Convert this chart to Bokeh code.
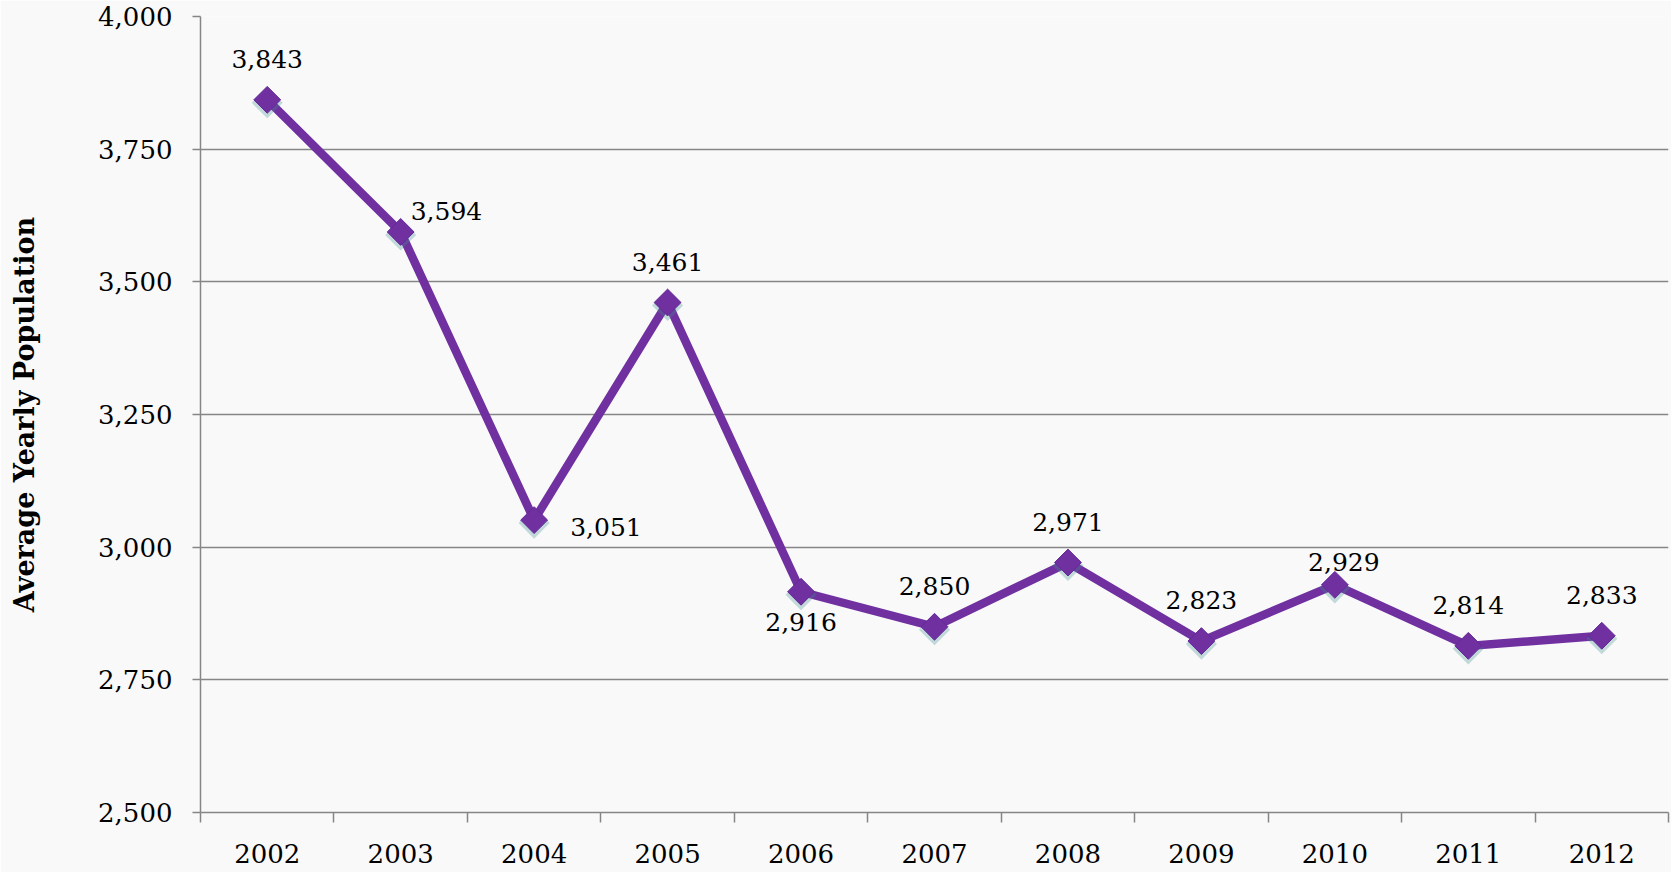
import math
from bokeh.plotting import figure
from bokeh.models import ColumnDataSource, FixedTicker, NumeralTickFormatter, Range1d
from bokeh.core.properties import value
from bokeh.embed import file_html
from bokeh.resources import INLINE

# ---- data ----
years = [2002, 2003, 2004, 2005, 2006, 2007, 2008, 2009, 2010, 2011, 2012]
population = [3843, 3594, 3051, 3461, 2916, 2850, 2971, 2823, 2929, 2814, 2833]
y_ticks = [2500, 2750, 3000, 3250, 3500, 3750, 4000]
y_title = "Average Yearly Population"

# where each data label sits relative to its point
label_place = ["above", "upper_right", "lower_right", "above", "below", "above",
               "above", "above", "above_near", "above", "above"]

PLACE = {
    "above": (0, -41, "center"),
    "above_near": (9, -23, "center"),
    "upper_right": (10, -21, "left"),
    "lower_right": (36, 7, "left"),
    "below": (0, 30, "center"),
}

FONT = "DejaVu Serif"
PURPLE = "#7030A0"
GRID = "#868686"
BG = "#f9f9f9"

p = figure(width=1671, height=872,
           x_range=Range1d(years[0] - 0.5, years[-1] + 0.5),
           y_range=Range1d(y_ticks[0], y_ticks[-1]),
           output_backend="svg", toolbar_location=None,
           min_border_left=200, min_border_right=3,
           min_border_top=16, min_border_bottom=60)

p.background_fill_color = BG
p.border_fill_color = BG
p.outline_line_color = None

# y axis
p.yaxis.ticker = FixedTicker(ticks=y_ticks)
p.yaxis.formatter = NumeralTickFormatter(format="0,0")
p.yaxis.major_tick_out = 8
p.yaxis.major_tick_in = 0
p.yaxis.minor_tick_line_color = None
p.yaxis.major_tick_line_color = GRID
p.yaxis.major_tick_line_width = 1.5
p.yaxis.axis_line_color = GRID
p.yaxis.axis_line_width = 1.5
p.yaxis.major_label_standoff = 20
p.yaxis.major_label_text_font = FONT
p.yaxis.major_label_text_font_size = "26px"
p.yaxis.major_label_text_color = "black"
p.yaxis.axis_label = y_title
p.yaxis.axis_label_text_font = FONT
p.yaxis.axis_label_text_font_style = "bold"
p.yaxis.axis_label_text_font_size = "27px"
p.yaxis.axis_label_text_color = "black"
p.yaxis.axis_label_standoff = 55

# x axis: labels at centres, tick marks between categories
p.xaxis.ticker = FixedTicker(ticks=years,
                             minor_ticks=[y - 0.5 for y in years] + [years[-1] + 0.5])
p.xaxis.major_label_overrides = {y: str(y) for y in years}
p.xaxis.major_tick_out = 0
p.xaxis.major_tick_in = 0
p.xaxis.minor_tick_out = 10
p.xaxis.minor_tick_in = 0
p.xaxis.minor_tick_line_color = GRID
p.xaxis.minor_tick_line_width = 1.5
p.xaxis.axis_line_color = GRID
p.xaxis.axis_line_width = 1.5
p.xaxis.major_label_standoff = 21
p.xaxis.major_label_text_font = FONT
p.xaxis.major_label_text_font_size = "26px"
p.xaxis.major_label_text_color = "black"

p.xgrid.grid_line_color = None
p.ygrid.ticker = FixedTicker(ticks=y_ticks)
p.ygrid.grid_line_color = GRID
p.ygrid.grid_line_width = 1.5

# line
p.line(years, population, line_color=PURPLE, line_width=8.5, line_join="miter")

# marker glow / shadow (slightly below each point)
px_per_unit = 796 / (y_ticks[-1] - y_ticks[0])
shadow_y = [v - 3 / px_per_unit for v in population]
p.scatter(years, shadow_y, marker="square", angle=math.pi / 4, size=22,
          fill_color="#3f8f8f", fill_alpha=0.3, line_color=None)
p.scatter(years, population, marker="square", angle=math.pi / 4, size=19,
          fill_color=PURPLE, line_color="#63289a", line_width=1)

# data labels
for align in ("center", "left"):
    xs, ys, txt, dxs, dys = [], [], [], [], []
    for yr, v, place in zip(years, population, label_place):
        dx, dy, al = PLACE[place]
        if al != align:
            continue
        xs.append(yr); ys.append(v); txt.append(f"{v:,}")
        dxs.append(dx); dys.append(dy)
    if xs:
        src = ColumnDataSource(dict(x=xs, y=ys, t=txt, dx=dxs, dy=dys))
        p.text(x="x", y="y", text="t", source=src, x_offset="dx", y_offset="dy",
               text_align=align, text_baseline="alphabetic",
               text_font=value(FONT), text_font_size="25px", text_color="black")

open("out.html", "w").write(file_html(p, INLINE))
